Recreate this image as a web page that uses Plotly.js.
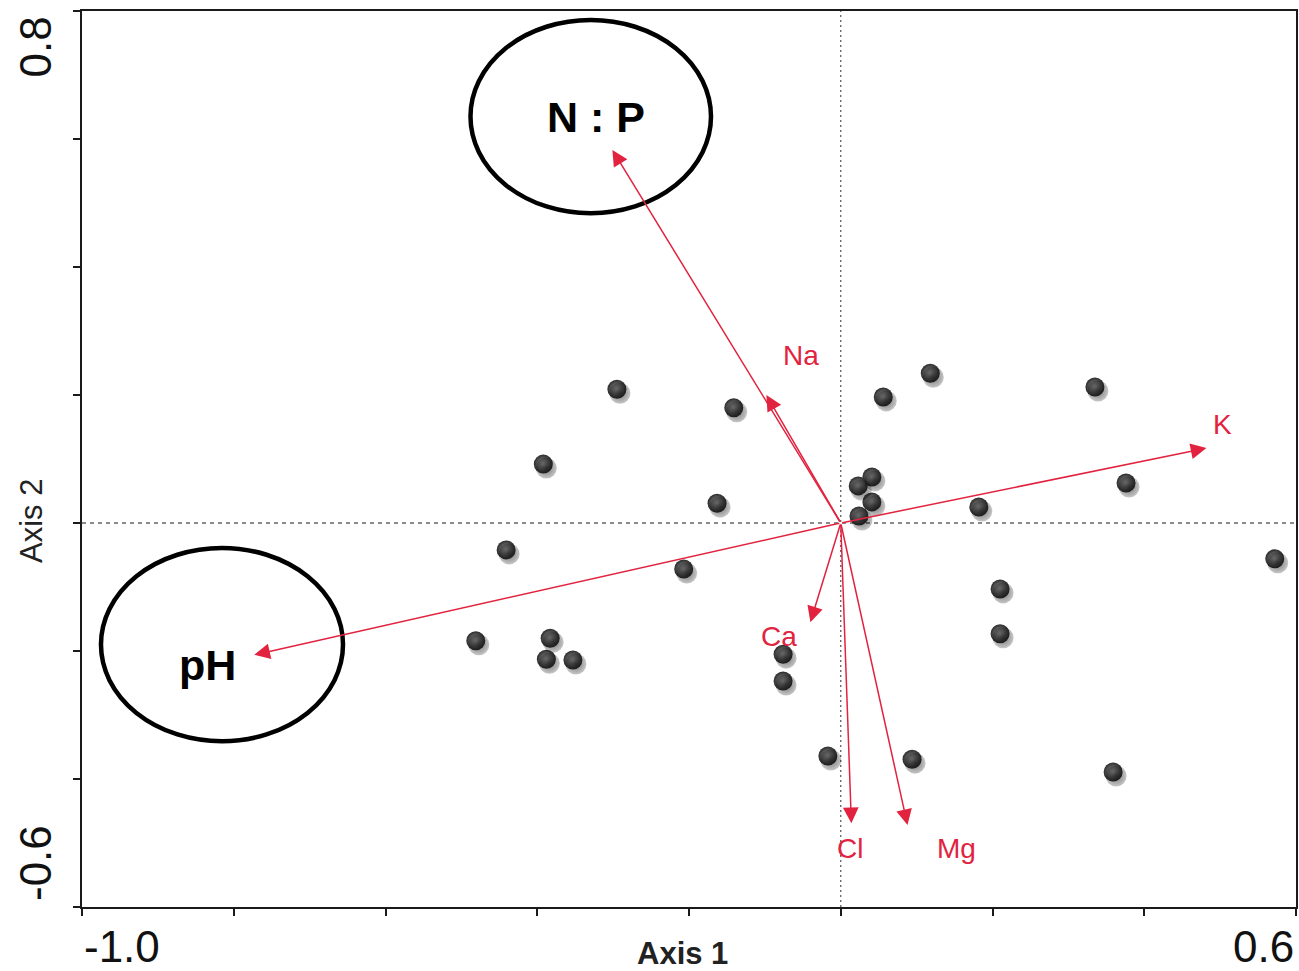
<!DOCTYPE html>
<html>
<head>
<meta charset="utf-8">
<script src="https://cdn.plot.ly/plotly-3.0.1.min.js"></script>
<style>html,body{margin:0;padding:0;background:#fff;}#chart{width:1299px;height:971px;}</style>
</head>
<body>
<div id="chart"></div>
<script>
// ---- Data ----
const sampleX = [-0.295, -0.141, -0.392, -0.163, -0.441, -0.207, -0.481, -0.383, -0.388, -0.353,
                 -0.076, -0.076, -0.017, 0.094, 0.359, 0.210, 0.210, 0.572, 0.182, 0.376,
                 0.335, 0.118, 0.056, 0.041, 0.023, 0.041, 0.024];
const sampleY = [0.209, 0.180, 0.092, 0.031, -0.042, -0.072, -0.184, -0.180, -0.213, -0.214,
                 -0.205, -0.247, -0.364, -0.369, -0.389, -0.173, -0.103, -0.056, 0.025, 0.0625,
                 0.2125, 0.234, 0.197, 0.072, 0.058, 0.033, 0.011];
const varNames = ['N : P', 'Na', 'K', 'pH', 'Ca', 'Cl', 'Mg'];
const varX = [-0.301, -0.098, 0.482, -0.773, -0.040, 0.014, 0.088];
const varY = [0.583, 0.200, 0.117, -0.206, -0.155, -0.469, -0.472];
const xRange = [-1.0, 0.6];
const yRange = [-0.6, 0.8];
const xTickLabels = ['-1.0', '0.6'];
const yTickLabels = ['0.8', '-0.6'];
const xTitle = 'Axis 1';
const yTitle = 'Axis 2';
const highlighted = ['N : P', 'pH'];

// ---- Styling (not data) ----
const RED = '#e2233f';
const FONT = 'Liberation Sans, Arial, sans-serif';
const labelOffsets = { // pixel offsets of label from arrow tip
  'N : P': [-16, 33], 'Na': [35, 40], 'K': [16, 24], 'pH': [-47, -10],
  'Ca': [-31, -14], 'Cl': [-1, -25], 'Mg': [49, -23]
};
const W = 1299, H = 971;
const margin = {l: 82, r: 3, t: 11, b: 64};
const plotW = W - margin.l - margin.r, plotH = H - margin.t - margin.b;
const pxX = (xRange[1] - xRange[0]) / plotW, pxY = (yRange[1] - yRange[0]) / plotH;
const shadowDX = 3, shadowDY = 4;

const traces = [
  { // drop shadow (same data, drawn on overlay axes shifted by a few pixels)
    x: sampleX, y: sampleY, xaxis: 'x2', yaxis: 'y2', type: 'scatter', mode: 'markers',
    hoverinfo: 'skip', showlegend: false,
    marker: {size: 21, color: 'rgba(0,0,0,0.22)', line: {width: 0},
             gradient: {type: 'radial', color: 'rgba(0,0,0,0.55)'}}
  },
  {
    x: sampleX, y: sampleY, type: 'scatter', mode: 'markers', showlegend: false, name: 'samples',
    marker: {size: 19, color: '#2a2a2a', line: {width: 0},
             gradient: {type: 'radial', color: '#a8a8a8'}}
  }
];

const annotations = [];
// vector arrows from the origin
varNames.forEach((n, i) => {
  annotations.push({
    x: varX[i], y: varY[i], xref: 'x', yref: 'y', ax: 0, ay: 0, axref: 'x', ayref: 'y',
    text: '', showarrow: true, arrowhead: 2, arrowsize: 2.1, arrowwidth: 1.5,
    arrowcolor: RED, standoff: 0, startstandoff: 0
  });
  const big = highlighted.includes(n);
  const off = labelOffsets[n];
  annotations.push({
    x: varX[i], y: varY[i], xref: 'x', yref: 'y', text: big ? '<b>' + n + '</b>' : n,
    showarrow: false, xshift: off[0], yshift: off[1], xanchor: 'center', yanchor: 'middle',
    font: big ? {family: FONT, size: 43, color: '#000'}
              : {family: FONT, size: 28, color: RED}
  });
});
// tick labels (only the end values are labelled, placed inside the axis span)
const tickFont = {family: FONT, size: 44, color: '#111'};
annotations.push({x: xRange[0], y: 0, xref: 'x', yref: 'paper', text: xTickLabels[0],
  showarrow: false, xanchor: 'left', yanchor: 'middle', yshift: -39, font: tickFont});
annotations.push({x: xRange[1], y: 0, xref: 'x', yref: 'paper', text: xTickLabels[1],
  showarrow: false, xanchor: 'right', yanchor: 'middle', yshift: -39, font: tickFont});
annotations.push({x: 0, y: yRange[1], xref: 'paper', yref: 'y', text: yTickLabels[0],
  showarrow: false, xanchor: 'center', yanchor: 'top', xshift: -47, yshift: -4,
  textangle: -90, font: tickFont});
annotations.push({x: 0, y: yRange[0], xref: 'paper', yref: 'y', text: yTickLabels[1],
  showarrow: false, xanchor: 'center', yanchor: 'bottom', xshift: -47, yshift: 4,
  textangle: -90, font: tickFont});
// axis titles
annotations.push({x: 0, y: 0, xref: 'x', yref: 'paper', text: '<b>' + xTitle + '</b>',
  showarrow: false, xanchor: 'center', yanchor: 'middle', xshift: -158, yshift: -46,
  font: {family: FONT, size: 31, color: '#222'}});
annotations.push({x: 0, y: 0, xref: 'paper', yref: 'y', text: yTitle,
  showarrow: false, xanchor: 'center', yanchor: 'middle', xshift: -51, yshift: 2,
  textangle: -90, font: {family: FONT, size: 31, color: '#222'}});

const shapes = [
  {type: 'line', xref: 'x', yref: 'paper', x0: 0, x1: 0, y0: 0, y1: 1,
   line: {color: '#555', width: 1.2, dash: '2px,3px'}, layer: 'below'},
  {type: 'line', xref: 'paper', yref: 'y', x0: 0, x1: 1, y0: 0, y1: 0,
   line: {color: '#666', width: 1.3, dash: '4px,4px'}, layer: 'below'},
  // highlight ellipses around N : P and pH
  {type: 'circle', xref: 'x', yref: 'y', x0: -0.488, x1: -0.171, y0: 0.484, y1: 0.786,
   line: {color: '#000', width: 4.5}},
  {type: 'circle', xref: 'x', yref: 'y', x0: -0.975, x1: -0.656, y0: -0.341, y1: -0.039,
   line: {color: '#000', width: 4.5}}
];

const axisCommon = {
  showgrid: false, zeroline: false, showline: true, linecolor: '#1a1a1a', linewidth: 2,
  mirror: true, ticks: 'outside', ticklen: 7, tickwidth: 2, tickcolor: '#1a1a1a',
  dtick: 0.2, showticklabels: false, fixedrange: true
};

const layout = {
  width: W, height: H, margin: margin, paper_bgcolor: '#fff', plot_bgcolor: '#fff',
  showlegend: false,
  xaxis: Object.assign({}, axisCommon, {range: xRange, tick0: -1.0}),
  yaxis: Object.assign({}, axisCommon, {range: yRange, tick0: -0.6}),
  xaxis2: {overlaying: 'x', visible: false, fixedrange: true,
    range: [xRange[0] - shadowDX * pxX, xRange[1] - shadowDX * pxX]},
  yaxis2: {overlaying: 'y', visible: false, fixedrange: true,
    range: [yRange[0] + shadowDY * pxY, yRange[1] + shadowDY * pxY]},
  annotations: annotations, shapes: shapes
};

Plotly.newPlot('chart', traces, layout, {displayModeBar: false, staticPlot: true});
</script>
</body>
</html>
